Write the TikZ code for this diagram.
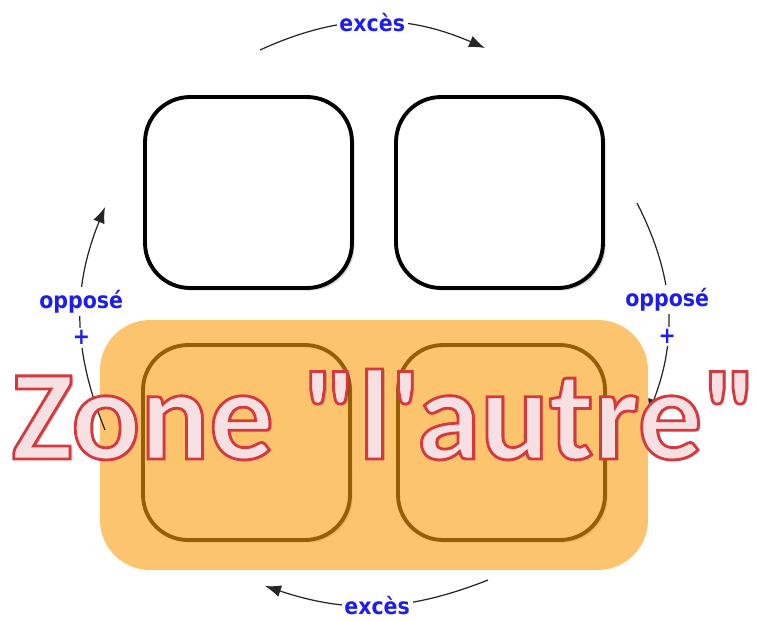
\documentclass[tikz,border=0pt]{standalone}
\usepackage{fontspec}
\usetikzlibrary{arrows.meta,shadows}
\newfontfamily\etiqfont{DejaVu Sans Condensed}
\newfontfamily\zonefont{Carlito}
\definecolor{bleuetiq}{RGB}{30,30,235}
\definecolor{orangezone}{RGB}{250,157,13}
\definecolor{rosetexte}{RGB}{246,224,226}
\definecolor{rougebord}{RGB}{215,55,60}
% texte contoure (mode de rendu 2 : remplir et tracer)
\newcommand{\contoure}[1]{\special{pdf:code q 2 Tr 1.6 w 0.84 0.22 0.24 RG}#1\special{pdf:code Q}}

\begin{document}
\begin{tikzpicture}[x=0.02cm,y=0.02cm,>={Latex[length=3.2mm,width=2.4mm]},
  boite/.style={draw=black,line width=2.2pt,rounded corners=0.9cm,fill=white,
    minimum width=4.14cm,minimum height=3.82cm,
    drop shadow={opacity=0.3,shadow xshift=1.5pt,shadow yshift=-1.5pt}},
  fleche/.style={->,black!85,line width=0.7pt},
  etiquette/.style={font=\etiqfont\bfseries\fontsize{13}{15}\selectfont,text=bleuetiq,fill=white,inner sep=1.5pt},
  titrefont/.style={font=\zonefont\bfseries\fontsize{73}{75}\selectfont,anchor=base}]
  \useasboundingbox (0,0) rectangle (759,620);
  % les quatre cases
  \node[boite] (hg) at (248.5,427.5) {};
  \node[boite] (hd) at (499.5,427.5) {};
  \node[boite,minimum height=3.9cm] (bg) at (246.5,177.5) {};
  \node[boite,minimum height=3.9cm] (bd) at (501.5,177.5) {};
  % zone orange
  \node[fill=orangezone,fill opacity=0.6,rounded corners=1cm,
    minimum width=10.96cm,minimum height=5cm] (zone) at (374,175) {};
  % fleches
  \coordinate (hdeb) at (260,570);
  \coordinate (hfin) at (485,572);
  \coordinate (bdeb) at (488,40);
  \coordinate (bfin) at (265,34);
  \coordinate (gdeb) at (105,190);
  \coordinate (gfin) at (105,413);
  \coordinate (ddeb) at (637,417);
  \coordinate (dfin) at (648,205);
  \draw[fleche] (hdeb) to[bend left=24] node[etiquette] (excesH) {excès} (hfin);
  \draw[fleche] (bdeb) to[bend left=20] node[etiquette] (excesB) {excès} (bfin);
  \draw[fleche] (gdeb) to[bend left=22]
    node[etiquette,pos=0.58] (opposeG) {opposé}
    node[etiquette,pos=0.41] (plusG) {+} (gfin);
  \draw[fleche] (ddeb) to[bend left=24]
    node[etiquette,pos=0.46] (opposeD) {opposé}
    node[etiquette,pos=0.64] (plusD) {+} (dfin);
  % titre
  \node[titrefont,text=black,opacity=0.22] (ombre) at (387.5,159.5) {Zone "l'autre"};
  \node[titrefont,text=rosetexte] (titre) at (385,161) {\contoure{Zone "l'autre"}};
\end{tikzpicture}
\end{document}
